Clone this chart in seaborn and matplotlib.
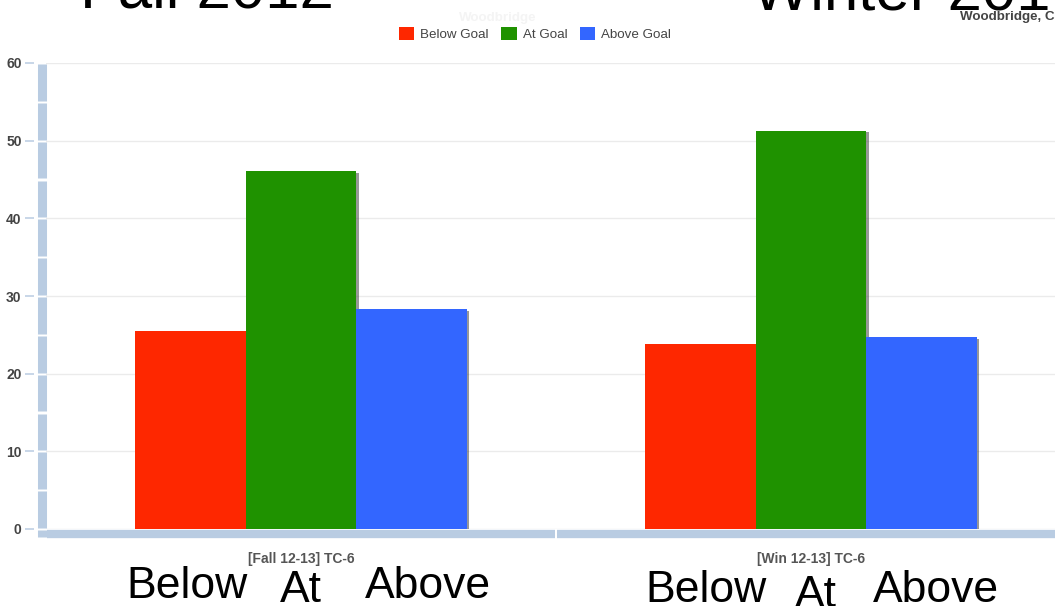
import matplotlib
matplotlib.use("Agg")
import matplotlib.pyplot as plt
import matplotlib.patheffects as pe
import matplotlib.transforms as mtransforms
from matplotlib.patches import Rectangle
import pandas as pd
import seaborn as sns

# ---- data -------------------------------------------------------------
periods = ["[Fall 12-13] TC-6", "[Win 12-13] TC-6"]
levels = ["Below Goal", "At Goal", "Above Goal"]
below_goal = [25.5, 23.8]
at_goal = [46.1, 51.3]
above_goal = [28.3, 24.7]
y_ticks = [0, 10, 20, 30, 40, 50, 60]
season_titles = ["Fall 2012", "Winter 201"]
level_words = ["Below", "At", "Above"]
school_name = "Woodbridge"
school_place = "Woodbridge, C"

colors = ["#fe2700", "#1f9200", "#3366ff"]

df = pd.DataFrame({
    "period": periods * 3,
    "level": [levels[0]] * 2 + [levels[1]] * 2 + [levels[2]] * 2,
    "pct": below_goal + at_goal + above_goal,
})

# ---- figure -------------------------------------------------------------
sns.set_theme(style="white")
plt.rcParams["font.family"] = ["Liberation Sans", "DejaVu Sans"]

W, H = 1055, 606
fig = plt.figure(figsize=(W / 100, H / 100), dpi=100)
fig.patch.set_facecolor("white")
ax = fig.add_axes([46 / W, 77 / H, 1020 / W, 466 / H])

sns.barplot(data=df, x="period", y="pct", hue="level", hue_order=levels,
            order=periods, palette=colors, width=0.65, saturation=1,
            linewidth=0, ax=ax)
ax.get_legend().remove()

shadow = [pe.SimplePatchShadow(offset=(1.8, -1.2), shadow_rgbFace="#444444",
                               alpha=0.55), pe.Normal()]
for bar in ax.patches:
    bar.set_path_effects(shadow)
    bar.set_zorder(3)

ax.set_xlim(-0.5, 1.5)
ax.set_ylim(0, 60)
ax.set_yticks(y_ticks)
ax.set_xlabel("")
ax.set_ylabel("")
ax.grid(axis="y", color="#ebebeb", linewidth=1.0)
ax.set_axisbelow(True)
for s in ax.spines.values():
    s.set_visible(False)
ax.spines["left"].set_position(("outward", 9))

ax.tick_params(axis="y", length=6.5, width=1.1, color="#b9cce2", pad=2,
               labelsize=10, labelcolor="#444444", left=True)
ax.tick_params(axis="x", length=0, pad=16.5, labelsize=10, labelcolor="#555555")
for lab in ax.get_yticklabels() + ax.get_xticklabels():
    lab.set_fontweight("bold")

# thick segmented axis bars
axis_col = "#b9cce2"
ytrans = mtransforms.offset_copy(
    mtransforms.blended_transform_factory(ax.transAxes, ax.transData),
    fig=fig, x=-4.5, y=0, units="dots")
gap = 0.13
for k in range(12):
    ax.vlines(0, 5 * k + gap, 5 * (k + 1) - gap, transform=ytrans,
              colors=axis_col, linewidth=6.5, capstyle="butt",
              clip_on=False, zorder=4)
ax.vlines(0, -1.05, -gap, transform=ytrans, colors=axis_col,
          linewidth=6.5, capstyle="butt", clip_on=False, zorder=4)

xtrans = mtransforms.offset_copy(
    mtransforms.blended_transform_factory(ax.transData, ax.transAxes),
    fig=fig, x=0, y=-5, units="dots")
xgap = 0.002
for i in range(len(periods)):
    ax.hlines(0, i - 0.5 + xgap, i + 0.5 - xgap, transform=xtrans,
              colors=axis_col, linewidth=6.0, capstyle="butt",
              clip_on=False, zorder=4)

# legend
handles = [Rectangle((0, 0), 1, 1, facecolor=c, edgecolor="none") for c in colors]
fig.legend(handles, levels, loc="center", bbox_to_anchor=(535 / W, 1 - 34 / H),
           ncol=3, frameon=False, fontsize=9.6, labelcolor="#444444",
           handlelength=1.15, handleheight=1.15, handletextpad=0.45,
           columnspacing=0.95, borderpad=0)

# small header texts (partly hidden behind the large titles)
fig.text(498 / W, 1 - 21 / H, school_name, ha="center", va="baseline",
         fontsize=9.6, fontweight="bold", color="#f4f4f4", zorder=1)
fig.text(960 / W, 1 - 20 / H, school_place, ha="left", va="baseline",
         fontsize=9.6, fontweight="bold", color="#444444", zorder=1)
for x0, x1 in [(440, 560), (940, 1060)]:
    fig.add_artist(Rectangle((x0 / W, 1 - 11 / H), (x1 - x0) / W,
                             11 / H, transform=fig.transFigure,
                             facecolor="white", edgecolor="none",
                             zorder=2))

# large season titles
fig.text(80 / W, 1 - 7 / H, season_titles[0], ha="left", va="baseline",
         fontsize=44.5, color="black", zorder=3)
fig.text(752 / W, 1 - 9 / H, season_titles[1], ha="left", va="baseline",
         fontsize=44.5, color="black", zorder=3)

# large level words under each group
word_x = [[187, 301, 428], [706, 816, 936]]
word_base = [[598, 602, 598], [602, 607, 602]]
for grp in range(2):
    for j, word in enumerate(level_words):
        fig.text(word_x[grp][j] / W, 1 - word_base[grp][j] / H, word,
                 ha="center", va="baseline", fontsize=32, color="black",
                 zorder=3)

fig.savefig("out.png", dpi=100, facecolor="white")
